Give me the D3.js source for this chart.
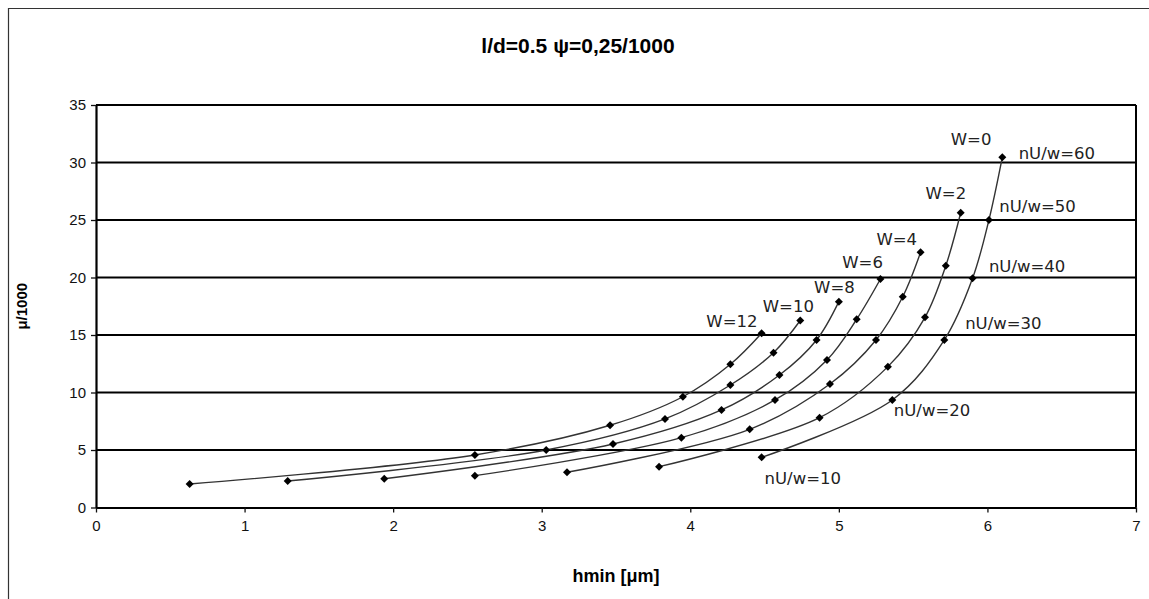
<!DOCTYPE html>
<html>
<head>
<meta charset="utf-8">
<script src="https://d3js.org/d3.v7.min.js"></script>
<style>
body { margin: 0; background: #fff; }
text { font-family: "Liberation Sans", Arial, sans-serif; }
.lbl { font-family: "DejaVu Sans", Verdana, sans-serif; font-size: 16.5px; fill: #222; }
</style>
</head>
<body>
<script>
// nU/w steps (10..60) shared by every curve
var nuw = [10, 20, 30, 40, 50, 60];
var wNames = ["W=0", "W=2", "W=4", "W=6", "W=8", "W=10", "W=12"];

// hmin [um] and mu/1000 per curve, one value per nU/w step
var hW0  = [4.48, 5.36, 5.71, 5.90, 6.01, 6.10];
var mW0  = [4.36, 9.35, 14.57, 19.93, 25.0, 30.45];
var hW2  = [3.79, 4.87, 5.33, 5.58, 5.72, 5.82];
var mW2  = [3.55, 7.81, 12.25, 16.54, 21.03, 25.63];
var hW4  = [3.17, 4.40, 4.94, 5.25, 5.43, 5.55];
var mW4  = [3.06, 6.80, 10.74, 14.57, 18.33, 22.19];
var hW6  = [2.55, 3.94, 4.57, 4.92, 5.12, 5.28];
var mW6  = [2.77, 6.07, 9.35, 12.83, 16.37, 19.87];
var hW8  = [1.94, 3.48, 4.21, 4.60, 4.85, 5.00];
var mW8  = [2.50, 5.52, 8.48, 11.52, 14.57, 17.90];
var hW10 = [1.29, 3.03, 3.83, 4.27, 4.56, 4.74];
var mW10 = [2.30, 5.00, 7.70, 10.65, 13.46, 16.26];
var hW12 = [0.63, 2.55, 3.46, 3.95, 4.27, 4.48];
var mW12 = [2.04, 4.57, 7.15, 9.63, 12.45, 15.15];

// label anchors in data units
var wLabelX = [5.89, 5.72, 5.39, 5.16, 4.97, 4.66, 4.28];
var wLabelY = [31.5, 26.8, 22.8, 20.8, 18.65, 17.0, 15.7];
var nLabelX = [4.50, 5.37, 5.85, 6.01, 6.08, 6.21];
var nLabelY = [2.04, 7.96, 15.5, 20.5, 25.7, 30.3];

var xTicks = [0, 1, 2, 3, 4, 5, 6, 7];
var yTicks = [0, 5, 10, 15, 20, 25, 30, 35];

var w = 1149, h = 599;
var svg = d3.select("body").append("svg").attr("width", w).attr("height", h);

// outer chart frame
svg.append("path").attr("d", "M8.5," + h + "V8.5H" + w)
  .attr("fill", "none").attr("stroke", "#333").attr("stroke-width", 1.2);

var x = d3.scaleLinear().domain([0, 7]).range([96, 1136]);
var y = d3.scaleLinear().domain([0, 35]).range([507.5, 105]);

// gridlines
svg.append("g").selectAll("line").data(yTicks.slice(1)).enter().append("line")
  .attr("x1", x(0)).attr("x2", x(7))
  .attr("y1", function(d) { return y(d); }).attr("y2", function(d) { return y(d); })
  .attr("stroke", "#000").attr("stroke-width", 2);

// right plot border
svg.append("line").attr("x1", x(7)).attr("x2", x(7)).attr("y1", y(35)).attr("y2", y(0))
  .attr("stroke", "#000").attr("stroke-width", 2);

var xAxis = svg.append("g").attr("transform", "translate(0," + y(0) + ")")
  .call(d3.axisBottom(x).tickValues(xTicks).tickFormat(d3.format("d"))
    .tickSize(5).tickPadding(8).tickSizeOuter(0));
var yAxis = svg.append("g").attr("transform", "translate(" + x(0) + ",0)")
  .call(d3.axisLeft(y).tickValues(yTicks).tickFormat(d3.format("d"))
    .tickSize(5).tickPadding(5).tickSizeOuter(0));
[xAxis, yAxis].forEach(function(a) {
  a.select(".domain").attr("stroke", "#000").attr("stroke-width", 2.2);
  a.selectAll(".tick line").attr("stroke", "#111").attr("stroke-width", 1.3);
  a.selectAll(".tick text").style("font-size", "15px").attr("fill", "#111")
    .style("font-family", "'Liberation Sans', Arial, sans-serif");
});

// curves
var hs = [hW0, hW2, hW4, hW6, hW8, hW10, hW12];
var ms = [mW0, mW2, mW4, mW6, mW8, mW10, mW12];
var series = wNames.map(function(n, i) {
  return { name: n, pts: nuw.map(function(v, j) { return [hs[i][j], ms[i][j]]; }) };
});

var line = d3.line()
  .x(function(d) { return x(d[0]); })
  .y(function(d) { return y(d[1]); })
  .curve(d3.curveCatmullRom.alpha(0.5));

svg.append("g").selectAll("path").data(series).enter().append("path")
  .attr("d", function(d) { return line(d.pts); })
  .attr("fill", "none").attr("stroke", "#333").attr("stroke-width", 1.4);

var diamond = d3.symbol().type(d3.symbolSquare).size(32);
series.forEach(function(s) {
  svg.append("g").selectAll("path").data(s.pts).enter().append("path")
    .attr("d", diamond)
    .attr("transform", function(d) { return "translate(" + x(d[0]) + "," + y(d[1]) + ") rotate(45)"; })
    .attr("fill", "#000");
});

// W labels
svg.append("g").selectAll("text").data(wNames).enter().append("text")
  .attr("class", "lbl")
  .attr("x", function(d, i) { return x(wLabelX[i]); })
  .attr("y", function(d, i) { return y(wLabelY[i]); })
  .attr("text-anchor", "middle")
  .text(function(d) { return d; });

// nU/w labels
svg.append("g").selectAll("text").data(nuw).enter().append("text")
  .attr("class", "lbl")
  .attr("x", function(d, i) { return x(nLabelX[i]); })
  .attr("y", function(d, i) { return y(nLabelY[i]); })
  .text(function(d) { return "nU/w=" + d; });

// titles
svg.append("text").attr("x", 578).attr("y", 53).attr("text-anchor", "middle")
  .style("font-size", "21px").style("font-weight", "bold")
  .text("l/d=0.5 \u03c8=0,25/1000");

svg.append("text").attr("x", (x(0) + x(7)) / 2).attr("y", 582).attr("text-anchor", "middle")
  .style("font-size", "18px").style("font-weight", "bold")
  .text("hmin [\u03bcm]");

svg.append("text")
  .attr("transform", "translate(27," + (y(0) + y(35)) / 2 + ") rotate(-90)")
  .attr("text-anchor", "middle")
  .style("font-size", "15px").style("font-weight", "bold")
  .text("\u03bc/1000");
</script>
</body>
</html>
